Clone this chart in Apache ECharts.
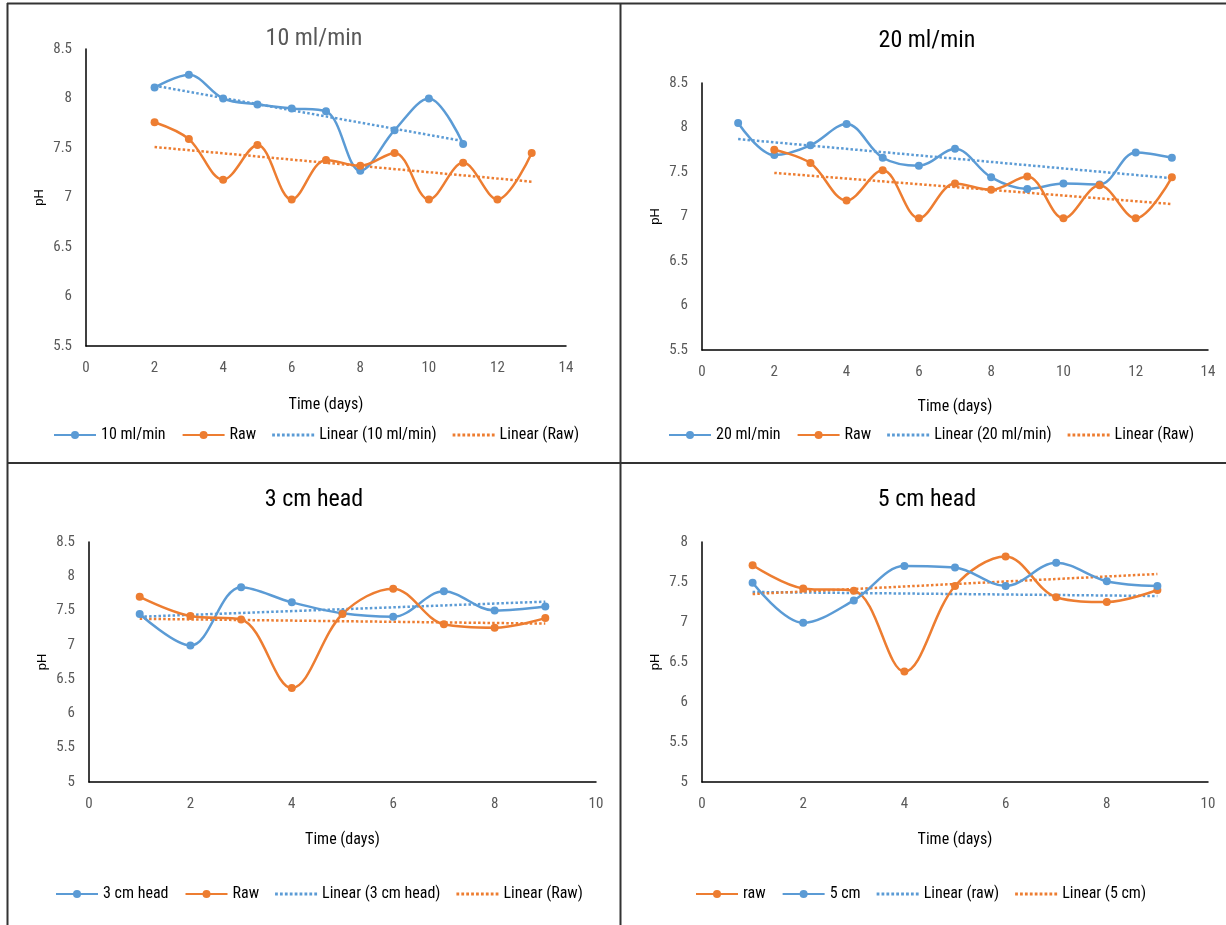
<!DOCTYPE html>
<html>
<head>
<meta charset="utf-8">
<script src="https://cdn.jsdelivr.net/npm/echarts@6/dist/echarts.min.js"></script>
<style>
html,body{margin:0;padding:0;background:#fff;}
#c{width:1226px;height:925px;}
</style>
</head>
<body>
<div id="c"></div>
<script>
// ---------- DATA ----------
// Panel 1: 10 ml/min
const days10 = [2, 3, 4, 5, 6, 7, 8, 9, 10, 11];
const ph10 = [8.11, 8.24, 8.00, 7.94, 7.90, 7.87, 7.27, 7.68, 8.00, 7.54];
const days10Raw = [2, 3, 4, 5, 6, 7, 8, 9, 10, 11, 12, 13];
const ph10Raw = [7.76, 7.59, 7.18, 7.53, 6.98, 7.38, 7.32, 7.45, 6.98, 7.35, 6.98, 7.45];
const trend10Days = [2, 11];
const trend10 = [8.13, 7.57];
const trend10RawDays = [2, 13];
const trend10Raw = [7.51, 7.16];

// Panel 2: 20 ml/min
const days20 = [1, 2, 3, 4, 5, 6, 7, 8, 9, 10, 11, 12, 13];
const ph20 = [8.05, 7.69, 7.80, 8.04, 7.66, 7.57, 7.76, 7.44, 7.31, 7.37, 7.36, 7.72, 7.66];
const days20Raw = [2, 3, 4, 5, 6, 7, 8, 9, 10, 11, 12, 13];
const ph20Raw = [7.75, 7.60, 7.18, 7.52, 6.98, 7.37, 7.30, 7.45, 6.98, 7.35, 6.98, 7.44];
const trend20Days = [1, 13];
const trend20 = [7.87, 7.43];
const trend20RawDays = [2, 13];
const trend20Raw = [7.49, 7.14];

// Panel 3: 3 cm head
const days3 = [1, 2, 3, 4, 5, 6, 7, 8, 9];
const ph3 = [7.45, 6.99, 7.84, 7.62, 7.46, 7.41, 7.78, 7.50, 7.56];
const ph3Raw = [7.70, 7.42, 7.37, 6.37, 7.45, 7.82, 7.30, 7.25, 7.39];
const trend3Days = [1, 9];
const trend3 = [7.41, 7.63];
const trend3Raw = [7.38, 7.31];

// Panel 4: 5 cm head
const days5 = [1, 2, 3, 4, 5, 6, 7, 8, 9];
const ph5Raw = [7.71, 7.42, 7.39, 6.38, 7.45, 7.82, 7.31, 7.25, 7.40];
const ph5 = [7.49, 6.99, 7.27, 7.70, 7.68, 7.45, 7.74, 7.51, 7.45];
const trend5Days = [1, 9];
const trend5RawLine = [7.375, 7.325];   // "Linear (raw)" (drawn blue)
const trend5Line = [7.35, 7.60];        // "Linear (5 cm)" (drawn orange)

const titles = ['10 ml/min', '20 ml/min', '3 cm head', '5 cm head'];
const xName = 'Time (days)';
const yName = 'pH';

// ---------- STYLE ----------
const BLUE = '#5B9BD5', ORANGE = '#ED7D31';
const FONT = "'Liberation Sans Narrow', 'Roboto Condensed', 'DejaVu Sans Condensed', sans-serif";
const zip = (xs, ys) => xs.map((x, i) => [x, ys[i]]);

// dotted legend icon (9 small squares)
let dotPath = 'path://';
for (let k = 0; k < 9; k++) {
  const x0 = k * 4.6;
  dotPath += 'M' + x0 + ',0h2.6v2.6h-2.6z';
}

function lineSeries(name, color, data, idx) {
  return {
    type: 'line', name, data, xAxisIndex: idx, yAxisIndex: idx,
    smooth: 0.35, symbol: 'circle', symbolSize: 8,
    lineStyle: { color, width: 2.5 }, itemStyle: { color },
    z: 3, animation: false
  };
}
function trendSeries(name, color, data, idx) {
  return {
    type: 'line', name, data, xAxisIndex: idx, yAxisIndex: idx,
    symbol: 'none', lineStyle: { color, width: 2.5, type: [2.5, 2.2] },
    itemStyle: { color }, z: 2, animation: false
  };
}

const grids = [
  { left: 86, top: 49, width: 480, height: 297 },
  { left: 702, top: 83, width: 506, height: 267 },
  { left: 89, top: 542, width: 507, height: 240 },
  { left: 702, top: 542, width: 506, height: 240 }
];
const xMax = [14, 14, 10, 10];
const yMin = [5.5, 5.5, 5, 5];
const yMax = [8.5, 8.5, 8.5, 8];
const titlePos = [[314, 27, '#595959'], [927, 29, '#000'], [314, 488, '#000'], [927, 488, '#000']];
const legendPos = [[53, 427], [668, 427], [55, 886], [695, 886]];
const xNameGap = [51, 49, 50, 50];

const xAxes = grids.map((g, i) => ({
  type: 'value', gridIndex: i, min: 0, max: xMax[i], interval: 2,
  name: xName, nameLocation: 'middle', nameGap: xNameGap[i],
  nameTextStyle: { fontFamily: FONT, fontSize: 16, color: '#000' },
  axisLine: { show: true, onZero: false, lineStyle: { color: '#000', width: 1.5 } },
  axisTick: { show: false }, splitLine: { show: false },
  axisLabel: { fontFamily: FONT, fontSize: 15, color: '#595959', margin: 15 }
}));
const yAxes = grids.map((g, i) => ({
  type: 'value', gridIndex: i, min: yMin[i], max: yMax[i], interval: 0.5,
  name: yName, nameLocation: 'middle', nameGap: 40, nameRotate: 90,
  nameTextStyle: { fontFamily: 'Arial, Liberation Sans, sans-serif', fontSize: 13, color: '#000' },
  axisLine: { show: true, lineStyle: { color: '#000', width: 1.5 } },
  axisTick: { show: false }, splitLine: { show: false },
  axisLabel: { fontFamily: FONT, fontSize: 15, color: '#595959', margin: 14 }
}));

const series = [
  lineSeries('10 ml/min', BLUE, zip(days10, ph10), 0),
  lineSeries('Raw', ORANGE, zip(days10Raw, ph10Raw), 0),
  trendSeries('Linear (10 ml/min)', BLUE, zip(trend10Days, trend10), 0),
  trendSeries('Linear (Raw)', ORANGE, zip(trend10RawDays, trend10Raw), 0),

  lineSeries('20 ml/min', BLUE, zip(days20, ph20), 1),
  lineSeries('Raw', ORANGE, zip(days20Raw, ph20Raw), 1),
  trendSeries('Linear (20 ml/min)', BLUE, zip(trend20Days, trend20), 1),
  trendSeries('Linear (Raw)', ORANGE, zip(trend20RawDays, trend20Raw), 1),

  lineSeries('3 cm head', BLUE, zip(days3, ph3), 2),
  lineSeries('Raw', ORANGE, zip(days3, ph3Raw), 2),
  trendSeries('Linear (3 cm head)', BLUE, zip(trend3Days, trend3), 2),
  trendSeries('Linear (Raw)', ORANGE, zip(trend3Days, trend3Raw), 2),

  lineSeries('raw', ORANGE, zip(days5, ph5Raw), 3),
  lineSeries('5 cm', BLUE, zip(days5, ph5), 3),
  trendSeries('Linear (raw)', BLUE, zip(trend5Days, trend5RawLine), 3),
  trendSeries('Linear (5 cm)', ORANGE, zip(trend5Days, trend5Line), 3)
];

const legendData = [
  ['10 ml/min', 'Raw', 'Linear (10 ml/min)', 'Linear (Raw)'],
  ['20 ml/min', 'Raw', 'Linear (20 ml/min)', 'Linear (Raw)'],
  ['3 cm head', 'Raw', 'Linear (3 cm head)', 'Linear (Raw)'],
  ['raw', '5 cm', 'Linear (raw)', 'Linear (5 cm)']
];

const chart = echarts.init(document.getElementById('c'), null, { renderer: 'canvas' });
chart.setOption({
  backgroundColor: '#fff',
  animation: false,
  title: titles.map((t, i) => ({
    text: t, left: titlePos[i][0], top: titlePos[i][1], textAlign: 'center', padding: 0,
    textStyle: { fontFamily: FONT, fontSize: 24, fontWeight: 'normal', color: titlePos[i][2] }
  })),
  legend: legendData.map((d, i) => ({
    data: d.map(n => n.startsWith('Linear') ? { name: n, icon: dotPath } : { name: n }),
    left: legendPos[i][0], top: legendPos[i][1], itemWidth: 42, itemHeight: 10,
    itemGap: 16, selectedMode: false, padding: 0, orient: 'horizontal', width: 600,
    textStyle: { fontFamily: FONT, fontSize: 16, color: '#000' }
  })),
  grid: grids,
  xAxis: xAxes,
  yAxis: yAxes,
  series: series,
  graphic: [
    { type: 'line', shape: { x1: 7, y1: 3.5, x2: 1226, y2: 3.5 }, style: { stroke: '#333', lineWidth: 2 }, silent: true },
    { type: 'line', shape: { x1: 7.5, y1: 3, x2: 7.5, y2: 925 }, style: { stroke: '#333', lineWidth: 2 }, silent: true },
    { type: 'line', shape: { x1: 620.5, y1: 3, x2: 620.5, y2: 925 }, style: { stroke: '#333', lineWidth: 2 }, silent: true },
    { type: 'line', shape: { x1: 7, y1: 463, x2: 1226, y2: 463 }, style: { stroke: '#333', lineWidth: 2 }, silent: true }
  ]
});
</script>
</body>
</html>
